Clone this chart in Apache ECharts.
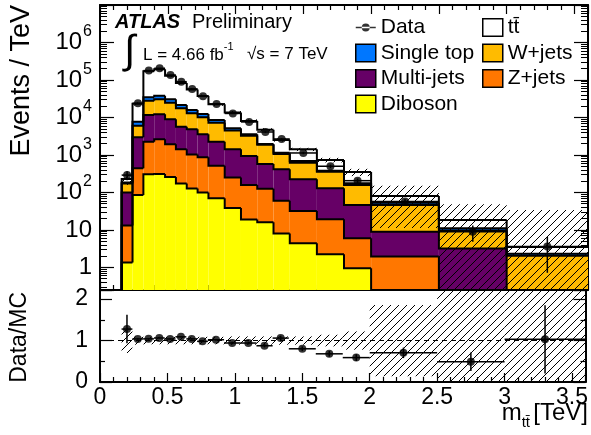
<!DOCTYPE html>
<html><head><meta charset="utf-8">
<script src="https://cdn.jsdelivr.net/npm/echarts@6/dist/echarts.min.js"></script>
<style>html,body{margin:0;padding:0;background:#fff}#c{width:591px;height:435px}</style>
</head><body><div id="c"></div>
<script>
// ---------- data ----------
const binEdges = [0.16,0.24,0.32,0.40,0.48,0.56,0.64,0.72,0.80,0.92,1.04,1.16,1.28,1.40,1.60,1.80,2.00,2.50,3.00,3.60];
const dataValues = [290,24000,178000,205000,135000,90000,57500,36700,22900,12800,7600,4100,2670,1130,500,206,57,9.0,3.6];
const dataErrRel = [0.27,0.02,0.01,0.01,0.01,0.01,0.015,0.02,0.02,0.03,0.035,0.045,0.055,0.07,0.1,0.14,0.18,0.46,0.8];
const diboson   = [1.35,86,306,310,260,172,127,100,70,38.5,19,16,8,4.4,2.25,0.95,0.1,0.04,0.01];
const zjets     = [11.7,356,1954,2310,1670,1248,903,770,445,212,139,110,52,27.6,17,5.05,1.85,0.11,0.04];
const multijets = [87,2518,9440,9580,7020,4270,3810,2690,1745,1170,777,449,355,193,111,40,7.05,3.05,0.1];
const wjets     = [72,3070,16300,18400,15750,11910,8160,6540,5020,3040,2335,1285,645,399,229,112,37.4,6.4,1.91];
const singletop = [13,1710,6700,7400,5900,3900,2800,2300,1280,690,290,100,90,66,21,17,7.1,1.5,0.24];
const ttbar     = [42,15360,136300,155000,99400,61100,39500,25000,13890,8450,4525,2730,1370,720,355,175,27.5,7.4,1.2];
const mcUncRel  = [0.3,0.1,0.09,0.09,0.09,0.09,0.09,0.09,0.09,0.1,0.1,0.1,0.1,0.1,0.14,0.22,0.86,1.6,8.7];
const processNames  = ['Diboson','Z+jets','Multi-jets','W+jets','Single top','t\u0074\u0304'];
const processColors = ['#ffff00','#ff7700','#660066','#ffbb00','#0077ff','#ffffff'];
const xRange = [0, 3.6];
const yMainRange = [0.25, 1e7];
const yRatioRange = [0, 2.22];

// ---------- helpers ----------
const FONT = '"Liberation Sans", Arial, sans-serif';
const nb = binEdges.length - 1;
const comps = [diboson, zjets, multijets, wjets, singletop, ttbar];
const cum = [];
comps.forEach((arr, k) => cum.push(arr.map((v, i) => v + (k ? cum[k-1][i] : 0))));
const total = cum[cum.length-1];
const ratio = dataValues.map((d, i) => d / total[i]);
const YMIN = yMainRange[0];

function hatchCanvas() {
  const c = document.createElement('canvas'); c.width = 8; c.height = 8;
  const g = c.getContext('2d'); g.strokeStyle = '#000'; g.lineWidth = 1;
  g.beginPath(); g.moveTo(0,8); g.lineTo(8,0); g.moveTo(-2,2); g.lineTo(2,-2); g.moveTo(6,10); g.lineTo(10,6); g.stroke();
  return c;
}
const HATCH = {image: hatchCanvas(), repeat: 'repeat'};

function layerSeries(k) {
  const data = [];
  for (let i = 0; i < nb; i++) {
    data.push([binEdges[i], binEdges[i+1], k ? cum[k-1][i] : YMIN, cum[k][i], i ? cum[k][i-1] : YMIN]);
  }
  const color = processColors[k];
  return {
    type: 'custom', name: processNames[k], xAxisIndex: 0, yAxisIndex: 0, clip: true, z: 2,
    itemStyle: {color: color, borderColor: '#000', borderWidth: 1.5},
    encode: {x: [0,1], y: [2,3]}, data: data,
    renderItem: function (params, api) {
      const lo = Math.max(api.value(2), YMIN), hi = Math.max(api.value(3), YMIN), pv = Math.max(api.value(4), YMIN);
      const a = api.coord([api.value(0), lo]), b = api.coord([api.value(1), hi]), p = api.coord([api.value(0), pv]);
      return {type: 'group', children: [
        {type: 'rect', z2: 0, shape: {x: a[0], y: b[1], width: b[0]-a[0], height: a[1]-b[1]}, style: {fill: color}},
        {type: 'polyline', z2: 10, shape: {points: [[p[0], p[1]], [a[0], b[1]], [b[0], b[1]]]}, style: {stroke: '#000', lineWidth: 2, fill: null}}
      ]};
    }
  };
}

function bandSeries(xi, yi, lowFn, highFn, lim) {
  const data = [];
  for (let i = 0; i < nb; i++) data.push([binEdges[i], binEdges[i+1], lowFn(i), highFn(i)]);
  return {
    type: 'custom', xAxisIndex: xi, yAxisIndex: yi, clip: true, z: 3, silent: true,
    encode: {x: [0,1], y: [2,3]}, data: data,
    renderItem: function (params, api) {
      const lo = Math.max(api.value(2), lim[0]), hi = Math.min(api.value(3), lim[1]);
      const a = api.coord([api.value(0), lo]), b = api.coord([api.value(1), hi]);
      return {type: 'rect', shape: {x: a[0], y: b[1], width: b[0]-a[0], height: a[1]-b[1]}, style: {fill: HATCH}};
    }
  };
}

function errSeries(xi, yi, vals, errs, lim) {
  const data = [];
  for (let i = 0; i < nb; i++) data.push([binEdges[i], binEdges[i+1], vals[i], vals[i]-errs[i], vals[i]+errs[i]]);
  return {
    type: 'custom', xAxisIndex: xi, yAxisIndex: yi, clip: true, z: 4, silent: true,
    encode: {x: [0,1], y: [2,3,4]}, data: data,
    renderItem: function (params, api) {
      const v = api.value(2), lo = Math.max(api.value(3), lim[0]), hi = Math.min(api.value(4), lim[1]);
      const xm = (api.value(0) + api.value(1)) / 2;
      const l = api.coord([api.value(0), v]), r = api.coord([api.value(1), v]);
      const t = api.coord([xm, hi]), bt = api.coord([xm, lo]);
      return {type: 'group', children: [
        {type: 'line', shape: {x1: l[0], y1: l[1], x2: r[0], y2: r[1]}, style: {stroke: '#000', lineWidth: 1.5}},
        {type: 'line', shape: {x1: t[0], y1: t[1], x2: bt[0], y2: bt[1]}, style: {stroke: '#000', lineWidth: 1.5}}
      ]};
    }
  };
}

const centers = binEdges.slice(0, -1).map((e, i) => (e + binEdges[i+1]) / 2);

const series = [];
for (let k = 0; k < comps.length; k++) series.push(layerSeries(k));
series.push(bandSeries(0, 0, i => total[i]*(1-mcUncRel[i]), i => total[i]*(1+mcUncRel[i]), yMainRange));
series.push(errSeries(0, 0, dataValues, dataValues.map((d,i) => d*dataErrRel[i]), yMainRange));
series.push({type: 'scatter', name: 'Data', xAxisIndex: 0, yAxisIndex: 0, z: 5, symbol: 'circle', symbolSize: 8,
  itemStyle: {color: '#000'}, data: centers.map((c, i) => [c, dataValues[i]])});
// ratio panel
const rb = bandSeries(2, 2, i => 1-mcUncRel[i], i => 1+mcUncRel[i], yRatioRange);
rb.markLine = {silent: true, symbol: 'none', label: {show: false}, lineStyle: {color: '#000', type: [5,4], width: 1.2}, data: [{yAxis: 1}]};
series.push(rb);
series.push(errSeries(2, 2, ratio, ratio.map((r,i) => r*dataErrRel[i]), yRatioRange));
series.push({type: 'scatter', name: 'DataRatio', xAxisIndex: 2, yAxisIndex: 2, z: 5, symbol: 'circle', symbolSize: 8,
  itemStyle: {color: '#000'}, data: centers.map((c, i) => [c, ratio[i]])});

const lineStyle = {color: '#000', width: 2};
function xAx(grid, pos, labels) {
  return {type: 'value', gridIndex: grid, position: pos, min: xRange[0], max: xRange[1], interval: 0.5,
    axisLine: {show: true, onZero: false, lineStyle: lineStyle},
    axisTick: {show: true, inside: true, length: 9, lineStyle: {color: '#000', width: 1.2}},
    minorTick: {show: true, splitNumber: 5, length: 5, lineStyle: {color: '#000', width: 1.2}},
    splitLine: {show: false},
    axisLabel: {show: labels, margin: 4, fontSize: 23, fontFamily: FONT, color: '#000',
      formatter: v => (Math.abs(v - 3.6) < 1e-6 ? '' : String(v)), showMaxLabel: false}};
}
function yMain(pos, labels) {
  return {type: 'log', logBase: 10, gridIndex: 0, position: pos, min: yMainRange[0], max: yMainRange[1],
    axisLine: {show: true, onZero: false, lineStyle: lineStyle},
    axisTick: {show: true, inside: true, length: 14, lineStyle: {color: '#000', width: 1.2}},
    minorTick: {show: true, splitNumber: 9, length: 7, lineStyle: {color: '#000', width: 1}},
    splitLine: {show: false},
    axisLabel: {show: labels, margin: 8, fontFamily: FONT, color: '#000', showMaxLabel: false, showMinLabel: false,
      formatter: function (v) {
        const n = Math.round(Math.log10(v));
        if (Math.abs(Math.log10(v) - n) > 1e-6 || n > 6) return '';
        if (n === 0) return '{b|1}';
        if (n === 1) return '{b|10}';
        return '{b|10}{s|' + n + '}';
      },
      rich: {b: {fontSize: 24, fontFamily: FONT},
             s: {fontSize: 16, fontFamily: FONT, verticalAlign: 'top', padding: [0, 0, 21, 1]}}}};
}
function yRatio(pos, labels) {
  return {type: 'value', gridIndex: 1, position: pos, min: yRatioRange[0], max: yRatioRange[1], interval: 1,
    axisLine: {show: true, onZero: false, lineStyle: lineStyle},
    axisTick: {show: true, inside: true, length: 12, lineStyle: {color: '#000', width: 1.2}},
    minorTick: {show: true, splitNumber: 2, length: 5, lineStyle: {color: '#000', width: 1.2}},
    splitLine: {show: false},
    axisLabel: {show: labels, margin: 12, fontSize: 23, fontFamily: FONT, color: '#000',
      formatter: v => (Number.isInteger(v) ? String(v) : ''), showMaxLabel: false}};
}

const legText = {fontSize: 21, fontFamily: FONT, color: '#000'};
function legItem(k) {
  return {name: processNames[k], icon: 'rect', itemStyle: {color: processColors[k], borderColor: '#000', borderWidth: 1.5}};
}
const legCommon = {orient: 'vertical', top: 17, itemGap: 4.5, itemWidth: 20, itemHeight: 17.5, padding: 0,
  selectedMode: false, textStyle: legText};

const option = {
  animation: false,
  backgroundColor: '#fff',
  grid: [
    {left: 100, right: 3, top: 5, height: 285},
    {left: 100, right: 3, top: 290, height: 92}
  ],
  xAxis: [xAx(0, 'bottom', false), xAx(0, 'top', false), xAx(1, 'bottom', true)],
  yAxis: [yMain('left', true), yMain('right', false), yRatio('left', true), yRatio('right', false)],
  legend: [
    Object.assign({left: 355, data: [
      {name: 'Data', icon: 'path://M0,4.2h20v1.6h-20z M6,5a4,4 0 1,0 8,0a4,4 0 1,0 -8,0z', itemStyle: {color: '#000'}},
      legItem(4), legItem(2), legItem(0)]}, legCommon),
    Object.assign({left: 482, data: [legItem(5), legItem(3), legItem(1)]}, legCommon)
  ],
  graphic: [
    {type: 'text', x: 115, y: 22, style: {text: 'ATLAS', font: 'italic bold 20px ' + FONT, fill: '#000', verticalAlign: 'middle'}},
    {type: 'text', x: 192, y: 22, style: {text: 'Preliminary', font: '20px ' + FONT, fill: '#000', verticalAlign: 'middle'}},
    {type: 'text', x: 124, y: 52, style: {text: '\u222B', font: '40px ' + FONT, fill: '#000', verticalAlign: 'middle'}},
    {type: 'text', x: 143, y: 55, style: {text: '{a|L = 4.66 fb}{s|-1}', verticalAlign: 'middle', fill: '#000',
      rich: {a: {fontSize: 17, fontFamily: FONT}, s: {fontSize: 11, fontFamily: FONT, verticalAlign: 'top', padding: [0, 0, 16, 0]}}}},
    {type: 'text', x: 247, y: 54, style: {text: '\u221As = 7 TeV', font: '17px ' + FONT, fill: '#000', verticalAlign: 'middle'}},
    {type: 'text', x: 588, y: 413, style: {text: '{m|m}{s|t\u0074\u0304} {m|[TeV]}', align: 'right', verticalAlign: 'middle', fill: '#000',
      rich: {m: {fontSize: 24, fontFamily: FONT}, s: {fontSize: 15, fontFamily: FONT, verticalAlign: 'bottom', padding: [19, 0, 0, 0]}}}},
    {type: 'text', x: 22, y: 5, rotation: Math.PI/2, style: {text: 'Events / TeV', font: '27px ' + FONT, fill: '#000', align: 'right', verticalAlign: 'middle'}},
    {type: 'text', x: 20, y: 292, rotation: Math.PI/2, style: {text: 'Data/MC', font: '23px ' + FONT, fill: '#000', align: 'right', verticalAlign: 'middle'}}
  ],
  series: series
};
const chart = echarts.init(document.getElementById('c'), null, {renderer: 'canvas'});
chart.setOption(option);
</script></body></html>
